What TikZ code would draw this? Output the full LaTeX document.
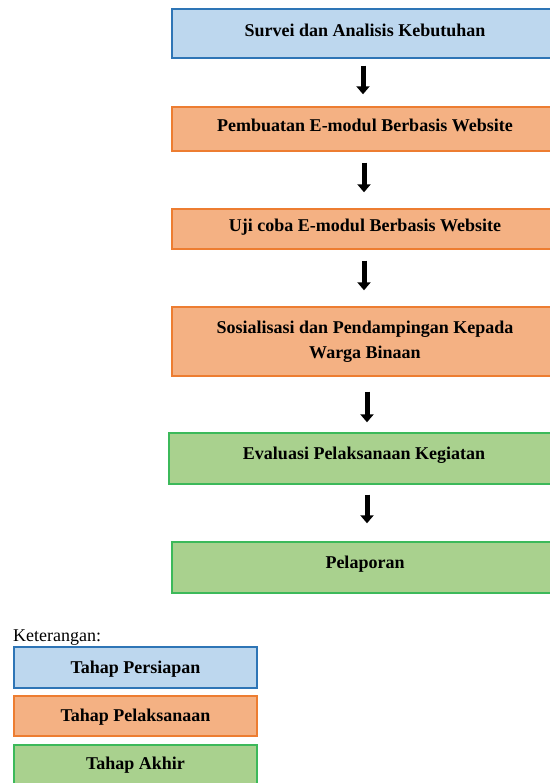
\documentclass[tikz,border=0pt]{standalone}
\usepackage{fontspec}
\setmainfont{Liberation Serif}
\usetikzlibrary{arrows.meta}
\definecolor{bluefill}{HTML}{BDD7EE}
\definecolor{blueline}{HTML}{2E75B6}
\definecolor{orangefill}{HTML}{F4B183}
\definecolor{orangeline}{HTML}{ED7D31}
\definecolor{greenfill}{HTML}{A9D18E}
\definecolor{greenline}{HTML}{3CB95A}
\tikzset{
  box/.style={draw, line width=1.4pt, inner sep=0pt, align=center,
    font=\fontsize{18}{25}\selectfont\bfseries},
  oneline/.style={text height=11pt, text depth=#1},
  oneline/.default=5pt,
  prep/.style={box, fill=bluefill, draw=blueline},
  exec/.style={box, fill=orangefill, draw=orangeline},
  final/.style={box, fill=greenfill, draw=greenline},
  flowarrow/.style={line width=5pt, -{Triangle[width=13pt,length=8pt]}},
}
\begin{document}
\begin{tikzpicture}[x=1pt,y=-1pt]
\useasboundingbox (0,0) rectangle (549,783);
\node[prep, oneline, minimum width=386pt, minimum height=49pt] (b1) at (365,33.5) {Survei dan Analisis Kebutuhan};
\node[exec, oneline, minimum width=386pt, minimum height=44pt] (b2) at (365,129) {Pembuatan E-modul Berbasis Website};
\node[exec, oneline, minimum width=386pt, minimum height=40pt] (b3) at (365,229) {Uji coba E-modul Berbasis Website};
\node[exec, minimum width=386pt, minimum height=69pt] (b4) at (365,341.5) {Sosialisasi dan Pendampingan Kepada\\Warga Binaan};
\node[final, oneline=9pt, minimum width=390pt, minimum height=51pt] (b5) at (364,458.5) {Evaluasi Pelaksanaan Kegiatan};
\node[final, oneline=9pt, minimum width=386pt, minimum height=51pt] (b6) at (365,567.5) {Pelaporan};

\draw[flowarrow, shorten <=7pt, shorten >=12pt] (b1.south -| 363,0) -- (b2.north -| 363,0);
\draw[flowarrow, shorten <=11pt, shorten >=16pt] (b2.south -| 364,0) -- (b3.north -| 364,0);
\draw[flowarrow, shorten <=11pt, shorten >=16pt] (b3.south -| 364,0) -- (b4.north -| 364,0);
\draw[flowarrow, shorten <=15pt, shorten >=10pt] (b4.south -| 367,0) -- (b5.north -| 367,0);
\draw[flowarrow, shorten <=10pt, shorten >=18pt] (b5.south -| 367,0) -- (b6.north -| 367,0);

\node[anchor=base west, inner sep=0pt, font=\fontsize{18}{22}\selectfont] (ket) at (13,641) {Keterangan:};
\node[prep, oneline=0pt, minimum width=243pt, minimum height=41pt] (l1) at (135.5,667.5) {Tahap Persiapan};
\node[exec, oneline=0pt, minimum width=243pt, minimum height=40pt] (l2) at (135.5,716) {Tahap Pelaksanaan};
\node[final, oneline=2pt, minimum width=243pt, minimum height=40pt] (l3) at (135.5,765) {Tahap Akhir};
\end{tikzpicture}
\end{document}
